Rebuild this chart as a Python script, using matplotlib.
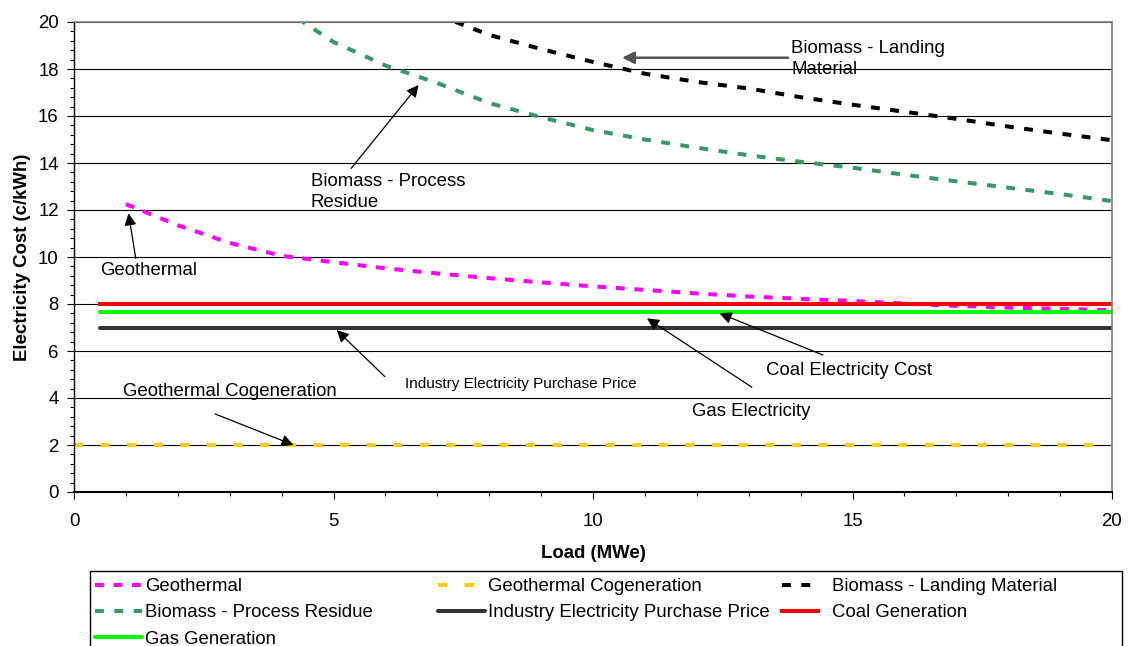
import numpy as np
import matplotlib
matplotlib.use('Agg')
import matplotlib.pyplot as plt
from matplotlib.ticker import MultipleLocator

plt.rcParams['font.family'] = ['Liberation Sans', 'DejaVu Sans']

# ---------------------------------------------------------------------------
# data
# ---------------------------------------------------------------------------
load = [1, 2, 3, 4, 5, 6, 7, 8, 9, 10, 11, 12, 13, 14, 15, 16, 17, 18, 19, 20]
geothermal = [12.25, 11.35, 10.6, 10.05, 9.78, 9.52, 9.3, 9.1, 8.92, 8.75,
              8.6, 8.45, 8.32, 8.22, 8.13, 8.02, 7.92, 7.85, 7.79, 7.74]

load_residue = [4, 5, 6, 7, 8, 9, 10, 11, 12, 13, 14, 15, 16, 17, 18, 19, 20]
process_residue = [20.6, 19.15, 18.15, 17.4, 16.55, 15.95, 15.4, 15.0, 14.65,
                   14.33, 14.05, 13.8, 13.5, 13.22, 12.95, 12.68, 12.38]

load_landing = [7, 8, 9, 10, 11, 12, 13, 14, 15, 16, 17, 18, 19, 20]
landing_material = [20.3, 19.45, 18.85, 18.3, 17.8, 17.45, 17.17, 16.8, 16.48,
                    16.18, 15.88, 15.55, 15.25, 14.97]

load_flat = [0.5, 20]
industry_price = [7.0, 7.0]
coal_generation = [8.0, 8.0]
gas_generation = [7.67, 7.67]

load_cogen = [0, 20]
geo_cogeneration = [2.0, 2.0]

# annotations: (text, text x, text y top, arrow tail, arrow tip, size)
notes = [
    ('Biomass - Landing\nMaterial', 13.82, 19.23, (13.76, 18.48), (10.56, 18.48), 13.4),
    ('Biomass - Process\nResidue', 4.56, 13.57, (5.34, 13.77), (6.64, 17.32), 13.4),
    ('Geothermal', 0.5, 9.79, (1.19, 9.94), (1.05, 11.86), 13.4),
    ('Industry Electricity Purchase Price', 6.38, 4.9, (5.99, 4.91), (5.06, 6.89), 11),
    ('Coal Electricity Cost', 13.34, 5.54, (14.43, 5.83), (12.44, 7.6), 13.4),
    ('Gas Electricity', 11.9, 3.77, (13.06, 4.46), (11.04, 7.39), 13.4),
    ('Geothermal Cogeneration', 0.94, 4.65, (2.72, 3.32), (4.23, 2.0), 13.4),
]

# ---------------------------------------------------------------------------
W, H = 1128, 646
fs = 13.4
lw = 2.9

fig = plt.figure(figsize=(W / 100, H / 100), dpi=100)
ax = fig.add_axes([74 / W, 1 - 492 / H, 1038 / W, 470 / H])

h_geo, = ax.plot(load, geothermal, color='#FF00FF', lw=lw,
                 linestyle=(0, (2.2, 2.4)), label='Geothermal')
h_cog, = ax.plot(load_cogen, geo_cogeneration, color='#FFCC00', lw=lw,
                 linestyle=(0, (2.3, 4.3)), label='Geothermal Cogeneration')
h_land, = ax.plot(load_landing, landing_material, color='black', lw=lw,
                  linestyle=(0, (2.2, 2.6)), label='Biomass - Landing Material')
h_res, = ax.plot(load_residue, process_residue, color='#339966', lw=lw,
                 linestyle=(0, (2.2, 2.6)), label='Biomass - Process Residue')
h_ind, = ax.plot(load_flat, industry_price, color='#333333', lw=lw,
                 solid_capstyle='round', label='Industry Electricity Purchase Price')
h_gas, = ax.plot(load_flat, gas_generation, color='#00FF00', lw=lw,
                 solid_capstyle='round', label='Gas Generation')
h_coal, = ax.plot(load_flat, coal_generation, color='#FF0000', lw=lw,
                  label='Coal Generation')

ax.set_xlim(0, 20)
ax.set_ylim(0, 20)
ax.xaxis.set_major_locator(MultipleLocator(5))
ax.xaxis.set_minor_locator(MultipleLocator(1))
ax.yaxis.set_major_locator(MultipleLocator(2))
ax.yaxis.set_minor_locator(MultipleLocator(0.4))
ax.tick_params(which='major', direction='out', length=5, width=0.8,
               labelsize=fs, pad=6)
ax.tick_params(which='minor', direction='out', length=3, width=0.8)
ax.tick_params(axis='x', which='major', pad=10)

ax.grid(True, axis='y', which='major', color='black', lw=0.8)
ax.set_axisbelow(True)
for s in ('top', 'right'):
    ax.spines[s].set_color('#808080')
    ax.spines[s].set_linewidth(1.2)
ax.spines['left'].set_linewidth(1.0)
ax.spines['bottom'].set_linewidth(1.5)

ax.set_xlabel('Load (MWe)', fontsize=fs, fontweight='bold', labelpad=11)
ax.set_ylabel('Electricity Cost (c/kWh)', fontsize=fs, fontweight='bold',
              labelpad=5)

for text, tx, ty, tail, tip, size in notes:
    ax.text(tx, ty, text, fontsize=size, va='top', ha='left',
            linespacing=1.3, zorder=5)
    landing = text.startswith('Biomass - Landing')
    ax.annotate('', xy=tip, xytext=tail,
                arrowprops=dict(arrowstyle='-|>',
                                color='#555555' if landing else 'black',
                                lw=1.8 if landing else 0.9,
                                mutation_scale=18, shrinkA=0, shrinkB=0),
                zorder=6)

# legend: three fixed-width columns inside one frame
columns = [
    ([h_geo, h_res, h_gas], 95, 2.5, 0.2),
    ([h_cog, h_ind], 438, 2.5, 0.2),
    ([h_land, h_coal], 782, 1.95, 0.75),
]
for hs, x0, hl, hp in columns:
    fig.legend(handles=hs, labels=[h.get_label() for h in hs],
               loc='upper left', bbox_to_anchor=(x0 / W, 1 - 578 / H),
               borderaxespad=0, borderpad=0, fontsize=fs, frameon=False,
               handlelength=hl, handletextpad=hp, labelspacing=0.5)
fig.add_artist(plt.Rectangle((90 / W, -0.1), (1122 - 90) / W, 0.1 + 1 - 571 / H,
                             transform=fig.transFigure, fill=False,
                             edgecolor='black', lw=1.0))

fig.savefig('out.png', dpi=100)
